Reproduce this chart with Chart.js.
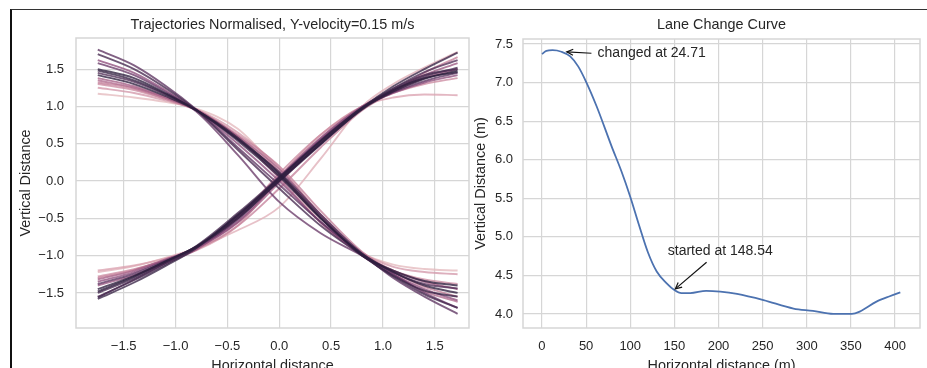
<!DOCTYPE html>
<html>
<head>
<meta charset="utf-8">
<script src="https://cdn.jsdelivr.net/npm/chart.js@4.4.1/dist/chart.umd.min.js"></script>
<style>
    html, body { margin: 0; padding: 0; background: #fff; overflow: hidden; }
    body { width: 927px; height: 368px; position: relative; }
    #frame { position: absolute; left: 10px; top: 9px; width: 930px; height: 400px; border-left: 2px solid #111; border-top: 1px solid #333; }
    .box { position: absolute; top: 10px; }
    #left { left: 12px; }
    #right { left: 472px; }
</style>
</head>
<body>
<div id="frame"></div>
<div class="box" id="left"><canvas id="trajChart" width="460" height="370"></canvas></div>
<div class="box" id="right"><canvas id="laneChart" width="455" height="370"></canvas></div>
<script>
// ---- data: normalised trajectories (left) ----
const trajX = [-1.75, -1.4, -1.1, -0.8, -0.4, 0, 0.4, 0.8, 1.1, 1.4, 1.72];

// rising trajectories
const risingY = [
    [-1.58, -1.36, -1.14, -0.90, -0.45, 0.02, 0.50, 0.98, 1.27, 1.50, 1.72],
    [-1.55, -1.33, -1.12, -0.89, -0.47, 0.00, 0.49, 0.97, 1.24, 1.46, 1.62],
    [-1.50, -1.30, -1.10, -0.89, -0.48, 0.03, 0.52, 0.97, 1.22, 1.40, 1.52],
    [-1.45, -1.27, -1.08, -0.88, -0.50, 0.00, 0.50, 0.96, 1.20, 1.37, 1.48],
    [-1.38, -1.24, -1.07, -0.89, -0.52, 0.05, 0.55, 0.98, 1.19, 1.34, 1.45],
    [-1.35, -1.22, -1.06, -0.90, -0.55, 0.02, 0.57, 0.99, 1.18, 1.32, 1.42],
    [-1.32, -1.20, -1.05, -0.90, -0.56, -0.02, 0.54, 0.98, 1.20, 1.38, 1.50],
    [-1.30, -1.19, -1.06, -0.92, -0.60, -0.10, 0.45, 0.95, 1.20, 1.45, 1.66],
    [-1.22, -1.14, -1.03, -0.90, -0.66, -0.35, 0.30, 1.00, 1.30, 1.52, 1.73],
    [-1.20, -1.13, -1.04, -0.93, -0.60, 0.05, 0.62, 1.00, 1.12, 1.16, 1.15],
    [-1.28, -1.18, -1.06, -0.90, -0.50, 0.10, 0.62, 1.00, 1.18, 1.30, 1.38],
    [-1.40, -1.26, -1.10, -0.92, -0.50, 0.06, 0.58, 1.00, 1.22, 1.42, 1.58],
    [-1.56, -1.32, -1.10, -0.87, -0.43, 0.05, 0.53, 0.99, 1.24, 1.42, 1.50],
    [-1.48, -1.28, -1.08, -0.88, -0.46, 0.04, 0.54, 0.98, 1.22, 1.38, 1.46]
];
const risingHue = [0.95, 0.85, 0.9, 1.0, 0.8, 0.6, 0.5, 0.35, 0.15, 0.2, 0.3, 0.55, 0.9, 1.0];

// falling trajectories
const fallingY = [
    [1.76, 1.55, 1.28, 0.96, 0.45, -0.05, -0.55, -0.98, -1.30, -1.55, -1.78],
    [1.70, 1.50, 1.25, 0.95, 0.42, -0.10, -0.60, -1.00, -1.28, -1.52, -1.70],
    [1.62, 1.45, 1.22, 0.95, 0.50, 0.00, -0.55, -0.99, -1.25, -1.45, -1.60],
    [1.50, 1.38, 1.18, 0.95, 0.56, 0.08, -0.50, -0.98, -1.22, -1.40, -1.50],
    [1.45, 1.33, 1.16, 0.95, 0.56, 0.12, -0.45, -0.97, -1.22, -1.38, -1.44],
    [1.42, 1.30, 1.14, 0.95, 0.58, 0.10, -0.48, -1.00, -1.20, -1.34, -1.40],
    [1.38, 1.27, 1.12, 0.95, 0.60, 0.16, -0.45, -0.98, -1.20, -1.35, -1.45],
    [1.32, 1.24, 1.10, 0.95, 0.62, 0.20, -0.40, -0.95, -1.22, -1.42, -1.55],
    [1.25, 1.18, 1.08, 0.96, 0.65, 0.18, -0.45, -0.96, -1.15, -1.22, -1.25],
    [1.17, 1.12, 1.06, 0.97, 0.70, 0.12, -0.55, -0.97, -1.12, -1.18, -1.20],
    [1.58, 1.42, 1.20, 0.93, 0.35, -0.28, -0.70, -1.00, -1.25, -1.50, -1.70],
    [1.35, 1.25, 1.12, 0.96, 0.58, 0.04, -0.56, -1.00, -1.25, -1.48, -1.62],
    [1.48, 1.35, 1.17, 0.95, 0.54, 0.06, -0.50, -0.99, -1.27, -1.47, -1.55],
    [1.30, 1.22, 1.10, 0.96, 0.60, 0.12, -0.50, -0.98, -1.20, -1.32, -1.38]
];
const fallingHue = [0.8, 0.9, 0.6, 1.0, 0.85, 1.0, 0.5, 0.35, 0.25, 0.1, 0.75, 0.45, 0.95, 0.3];

const trajXTicks = [-1.5, -1.0, -0.5, 0.0, 0.5, 1.0, 1.5];
const trajYTicks = [-1.5, -1.0, -0.5, 0.0, 0.5, 1.0, 1.5];

// ---- data: lane change curve (right) ----
const laneX = [0, 5, 12, 22, 32, 41, 50, 62, 79, 90, 100, 110, 120, 130, 141, 150, 158, 168, 186, 202,
               221, 251, 285, 307, 330, 351, 360, 379, 394, 406];
const laneY = [7.37, 7.41, 7.42, 7.40, 7.34, 7.21, 7.01, 6.69, 6.17, 5.85, 5.52, 5.15, 4.80, 4.55, 4.40,
               4.31, 4.27, 4.27, 4.30, 4.29, 4.26, 4.18, 4.07, 4.04, 4.00, 4.00, 4.03, 4.16, 4.23, 4.28];
const laneXTicks = [0, 50, 100, 150, 200, 250, 300, 350, 400];
const laneYTicks = [4.0, 4.5, 5.0, 5.5, 6.0, 6.5, 7.0, 7.5];

// annotations: point (x, y), text anchor and arrow tail, in data units
const annotations = [
    { text: 'changed at 24.71', x: 24.71, y: 7.40, textX: 63, textY: 7.38, tailX: 56, tailY: 7.38 },
    { text: 'started at 148.54', x: 148.54, y: 4.30, textX: 142.5, textY: 4.82, tailX: 186.5, tailY: 4.67 }
];

// ---- styles ----
const FONT = "'Liberation Sans', Arial, sans-serif";
const TEXT = '#262626';
const GRID = '#d6d6d6';
const PALETTE = ['#edd1cb', '#dba3b1', '#bd7593', '#8f4f7d', '#5e3462', '#2d1e3e'];

function hexToRgb(h) {
    return [parseInt(h.slice(1, 3), 16), parseInt(h.slice(3, 5), 16), parseInt(h.slice(5, 7), 16)];
}
function hueColor(t, alpha) {
    const pos = t * (PALETTE.length - 1);
    const i = Math.min(Math.floor(pos), PALETTE.length - 2);
    const f = pos - i;
    const a = hexToRgb(PALETTE[i]), b = hexToRgb(PALETTE[i + 1]);
    const c = a.map((v, k) => Math.round(v + (b[k] - v) * f));
    return 'rgba(' + c[0] + ',' + c[1] + ',' + c[2] + ',' + alpha + ')';
}

function fmtTick(v) {
    return (v < 0 ? '\u2212' : '') + Math.abs(v).toFixed(1);
}

// spines on all four sides
const frameBox = {
    id: 'frameBox',
    beforeDatasetsDraw(chart) {
        const a = chart.chartArea, ctx = chart.ctx;
        ctx.save();
        ctx.strokeStyle = GRID;
        ctx.lineWidth = 1.5;
        ctx.strokeRect(a.left, a.top, a.right - a.left, a.bottom - a.top);
        ctx.restore();
    }
};

// title centred over the axes, like matplotlib
const axesTitle = {
    id: 'axesTitle',
    afterDraw(chart, args, opts) {
        const a = chart.chartArea, ctx = chart.ctx;
        ctx.save();
        ctx.fillStyle = TEXT;
        ctx.font = '14.4px ' + FONT;
        ctx.textAlign = 'center';
        ctx.textBaseline = 'middle';
        ctx.fillText(opts.text, (a.left + a.right) / 2, 15);
        ctx.restore();
    }
};

// matplotlib-style annotate arrows
const arrowNotes = {
    id: 'arrowNotes',
    afterDatasetsDraw(chart) {
        const ctx = chart.ctx, xs = chart.scales.x, ys = chart.scales.y;
        ctx.save();
        annotations.forEach(n => {
            const px = xs.getPixelForValue(n.x), py = ys.getPixelForValue(n.y);
            const tx = xs.getPixelForValue(n.tailX), ty = ys.getPixelForValue(n.tailY);
            const ang = Math.atan2(py - ty, px - tx);
            const hx = px - Math.cos(ang) * 3, hy = py - Math.sin(ang) * 3;
            ctx.strokeStyle = '#111';
            ctx.lineWidth = 1.2;
            ctx.beginPath();
            ctx.moveTo(tx, ty);
            ctx.lineTo(hx, hy);
            ctx.stroke();
            const L = 7, w = 0.45;
            ctx.beginPath();
            ctx.moveTo(hx - L * Math.cos(ang - w), hy - L * Math.sin(ang - w));
            ctx.lineTo(hx, hy);
            ctx.lineTo(hx - L * Math.cos(ang + w), hy - L * Math.sin(ang + w));
            ctx.stroke();
            ctx.fillStyle = TEXT;
            ctx.font = '14px ' + FONT;
            ctx.textAlign = 'left';
            ctx.textBaseline = 'middle';
            ctx.fillText(n.text, xs.getPixelForValue(n.textX), ys.getPixelForValue(n.textY));
        });
        ctx.restore();
    }
};

function axisOpts(min, max, ticks, label, tickPad, fitSize, horizontal, titlePad, fmt) {
    return {
        type: 'linear',
        min: min,
        max: max,
        afterBuildTicks: s => { s.ticks = ticks.map(v => ({ value: v })); },
        afterFit: s => { if (horizontal) { s.height = fitSize; } else { s.width = fitSize; } },
        grid: { color: GRID, lineWidth: 1.2, drawTicks: false },
        border: { display: false },
        ticks: { color: TEXT, padding: tickPad, font: { family: FONT, size: 13 }, callback: fmt },
        title: { display: true, text: label, color: TEXT, font: { family: FONT, size: 14.4 }, padding: titlePad }
    };
}

document.addEventListener('DOMContentLoaded', function () {

    // TRAJECTORIES
    const trajSets = [];
    risingY.forEach((ys, i) => trajSets.push({ ys: ys, hue: risingHue[i] }));
    fallingY.forEach((ys, i) => trajSets.push({ ys: ys, hue: fallingHue[i] }));
    trajSets.sort((a, b) => b.hue - a.hue);

    new Chart(document.getElementById('trajChart'), {
        type: 'line',
        data: {
            datasets: trajSets.map(t => ({
                data: trajX.map((x, k) => ({ x: x, y: t.ys[k] })),
                borderColor: hueColor(t.hue, 0.78),
                borderWidth: 1.9,
                pointRadius: 0,
                cubicInterpolationMode: 'monotone',
                fill: false
            }))
        },
        options: {
            responsive: false,
            animation: false,
            layout: { padding: { top: 28, right: 3, bottom: 0, left: 0 } },
            plugins: {
                legend: { display: false },
                tooltip: { enabled: false },
                axesTitle: { text: 'Trajectories Normalised, Y-velocity=0.15 m/s' }
            },
            scales: {
                x: axisOpts(-1.96, 1.83, trajXTicks, 'Horizontal distance', 11, 52, true, { top: 0, bottom: 5 }, fmtTick),
                y: axisOpts(-1.97, 1.917, trajYTicks, 'Vertical Distance', 12, 64, false, { top: 5.4, bottom: 0 }, fmtTick)
            }
        },
        plugins: [frameBox, axesTitle]
    });

    // LANE CHANGE CURVE
    new Chart(document.getElementById('laneChart'), {
        type: 'line',
        data: {
            datasets: [{
                data: laneX.map((x, k) => ({ x: x, y: laneY[k] })),
                borderColor: '#4c72b0',
                borderWidth: 1.8,
                pointRadius: 0,
                cubicInterpolationMode: 'monotone',
                fill: false
            }]
        },
        options: {
            responsive: false,
            animation: false,
            layout: { padding: { top: 29, right: 7, bottom: 0, left: 0 } },
            plugins: {
                legend: { display: false },
                tooltip: { enabled: false },
                axesTitle: { text: 'Lane Change Curve' }
            },
            scales: {
                x: axisOpts(-21.5, 428.3, laneXTicks, 'Horizontal distance (m)', 11, 52, true, { top: 0, bottom: 5 }, v => String(v)),
                y: axisOpts(3.818, 7.565, laneYTicks, 'Vertical Distance (m)', 10, 51, false, { top: 0.4, bottom: 0 }, fmtTick)
            }
        },
        plugins: [frameBox, axesTitle, arrowNotes]
    });

});
</script>
</body>
</html>
